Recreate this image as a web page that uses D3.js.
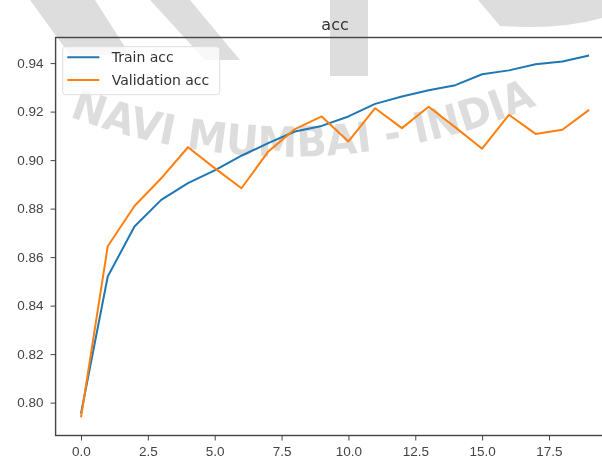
<!DOCTYPE html>
<meta charset="utf-8">
<style>
  body { margin: 0; background: #fff; }
  svg { display: block; font-family: "DejaVu Sans", sans-serif; filter: blur(0.35px); }
  .tick text { fill: #444; font-size: 13.5px; }
  .tick line { stroke: #444; }
</style>
<body>
<div class="chart"></div>
<script src="https://cdnjs.cloudflare.com/ajax/libs/d3/7.8.5/d3.min.js"></script>
<script>

  // epochs and accuracy per epoch
  const epochs = d3.range(20);
  const trainAcc = [0.7955, 0.8520, 0.8726, 0.8836, 0.8905, 0.8958, 0.9018, 0.9070, 0.9118, 0.9141,
                    0.9180, 0.9232, 0.9262, 0.9288, 0.9309, 0.9354, 0.9370, 0.9395, 0.9407, 0.9431];
  const valAcc = [0.7939, 0.8645, 0.8811, 0.8925, 0.9053, 0.8967, 0.8884, 0.9035, 0.9128, 0.9180,
                  0.9077, 0.9214, 0.9132, 0.9220, 0.9135, 0.9047, 0.9187, 0.9108, 0.9125, 0.9207];
  const xTicks = [0, 2.5, 5, 7.5, 10, 12.5, 15, 17.5];
  const yTicks = [0.80, 0.82, 0.84, 0.86, 0.88, 0.90, 0.92, 0.94];
  const seriesNames = ["Train acc", "Validation acc"];
  const colors = ["#1f77b4", "#ff7f0e"];

  let width = 602;
  let height = 458;
  let box = {left: 55.6, right: 614.5, top: 37.5, bottom: 435.5};

  let svg = d3.select(".chart").append("svg")
    .attr("width", width)
    .attr("height", height);

  // matplotlib style 5% margins
  let xPad = (d3.max(epochs) - d3.min(epochs)) * 0.05;
  let all = trainAcc.concat(valAcc);
  let yPad = (d3.max(all) - d3.min(all)) * 0.05;

  let x = d3.scaleLinear()
    .domain([d3.min(epochs) - xPad, d3.max(epochs) + xPad])
    .range([box.left, box.right]);
  let y = d3.scaleLinear()
    .domain([d3.min(all) - yPad, d3.max(all) + yPad])
    .range([box.bottom, box.top]);

  // faint watermark, under the chart marks
  let wm = svg.append("g").attr("opacity", 0.22).attr("fill", "#666");
  wm.append("path").attr("d", "M30,0 L95,0 L130,55 L70,55 Z");
  wm.append("path").attr("d", "M150,0 L190,0 L240,60 L205,60 Z");
  wm.append("path").attr("d", "M330,0 L368,0 L368,76 L330,76 Z");
  wm.append("path").attr("d", "M478,0 L602,0 L602,18 Q560,30 500,26 Z");
  wm.append("path")
    .attr("id", "wmArc")
    .attr("fill", "none")
    .attr("d", "M58,112 A620,620 0 0,0 548,100");
  wm.append("text")
    .attr("font-size", "42px")
    .attr("font-weight", "bold")
    .append("textPath")
    .attr("href", "#wmArc")
    .attr("startOffset", "50%")
    .attr("text-anchor", "middle")
    .attr("textLength", 480)
    .attr("lengthAdjust", "spacingAndGlyphs")
    .text("NAVI MUMBAI - INDIA");

  svg.append("g")
    .attr("transform", `translate(0, ${box.bottom})`)
    .call(d3.axisBottom(x).tickValues(xTicks).tickFormat(d3.format(".1f")).tickSize(5).tickPadding(6))
    .call(g => g.select(".domain").remove());

  svg.append("g")
    .attr("transform", `translate(${box.left}, 0)`)
    .call(d3.axisLeft(y).tickValues(yTicks).tickFormat(d3.format(".2f")).tickSize(5).tickPadding(7))
    .call(g => g.select(".domain").remove());

  let line = (vals) => d3.line()
    .x((d, i) => x(epochs[i]))
    .y((d) => y(d))(vals);

  [trainAcc, valAcc].forEach((vals, k) => {
    svg.append("path")
      .attr("d", line(vals))
      .attr("fill", "none")
      .attr("stroke", colors[k])
      .attr("stroke-width", 2)
      .attr("stroke-linejoin", "round");
  });

  // frame
  svg.append("rect")
    .attr("x", box.left)
    .attr("y", box.top)
    .attr("width", box.right - box.left)
    .attr("height", box.bottom - box.top)
    .attr("fill", "none")
    .attr("stroke", "#444")
    .attr("stroke-width", 1.4);

  svg.append("text")
    .attr("x", (box.left + box.right) / 2)
    .attr("y", 29.5)
    .attr("text-anchor", "middle")
    .attr("fill", "#333")
    .attr("font-size", "16px")
    .text("acc");

  // legend
  let legend = svg.append("g").attr("transform", "translate(62.7, 46.7)");
  legend.append("rect")
    .attr("width", 157)
    .attr("height", 48)
    .attr("rx", 3)
    .attr("fill", "rgba(255,255,255,0.8)")
    .attr("stroke", "#ddd");
  seriesNames.forEach((name, k) => {
    legend.append("line")
      .attr("x1", 4.6).attr("x2", 36.6)
      .attr("y1", 10.6 + k * 22.7).attr("y2", 10.6 + k * 22.7)
      .attr("stroke", colors[k])
      .attr("stroke-width", 2);
    legend.append("text")
      .attr("x", 49)
      .attr("y", 15.8 + k * 22.7)
      .attr("fill", "#333")
      .attr("font-size", "14px")
      .text(name);
  });

</script>
</body>
